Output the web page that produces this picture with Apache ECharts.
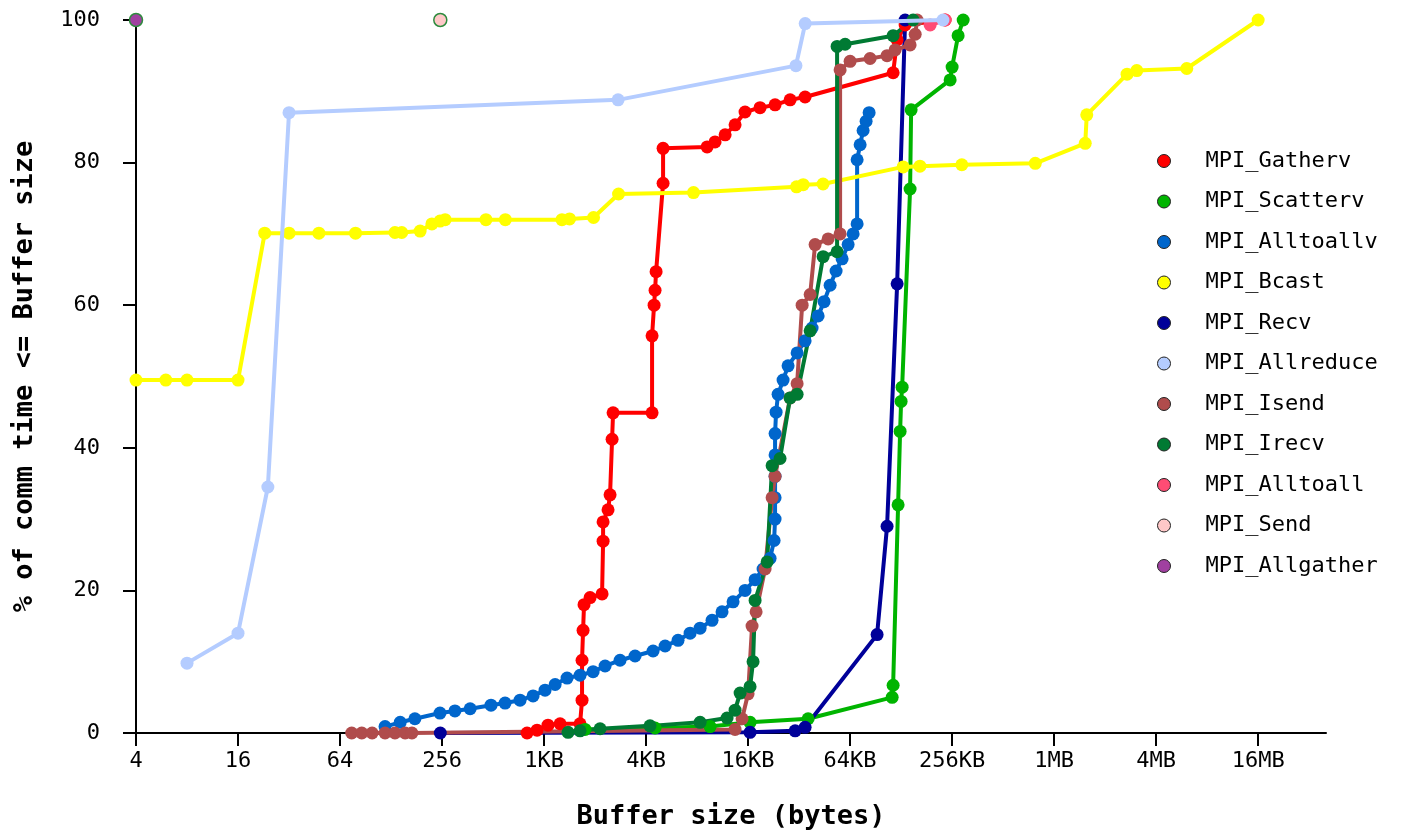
<!DOCTYPE html>
<html lang="en">
    <head>
        <title>Buffer size CDF</title>
        <meta charset="utf-8">
        <script src='https://cdn.jsdelivr.net/npm/echarts@6/dist/echarts.min.js'></script>
    </head>

    <style>
        html, body, #main {
            width: 100%;
            height: 100%;
            margin: 0;
            background: #fff;
        }
    </style>

    <body>
        <div id='main'></div>

        <script>
            // buffer size in bytes vs. cumulative % of comm time
            const gathervSize = [813, 931, 1080, 1273, 1670, 1716, 1716, 1740, 1763, 1914, 2253, 2284, 2284, 2443, 2511,
                2581, 2616, 4444, 4444, 4567, 4628, 4694, 5161, 5161, 9388, 10460, 11990, 13730, 15720, 19280,
                23640, 29000, 35550, 117600, 124200, 138400, 238400];
            const gathervPct = [0.0, 0.4, 1.1, 1.3, 1.3, 4.6, 10.2, 14.4, 18.0, 19.0, 19.5, 26.9, 29.6, 31.3, 33.4,
                41.2, 44.9, 44.9, 55.7, 60.0, 62.1, 64.7, 77.1, 82.0, 82.2, 82.9, 83.9, 85.3, 87.1, 87.7,
                88.1, 88.8, 89.2, 92.6, 97.2, 99.3, 100];

            const scattervSize = [1788, 4628, 9775, 16830, 37040, 116050, 117600, 125830, 129300, 131072, 132900,
                148100, 150200, 255200, 262144, 284400, 304600];
            const scattervPct = [0.5, 0.7, 0.9, 1.5, 2.0, 5.0, 6.7, 32.0, 42.3, 46.5, 48.5,
                76.3, 87.4, 91.6, 93.4, 97.8, 100];

            const alltoallvSize = [118, 145, 177, 249, 305, 375, 498, 603, 739, 882, 1038, 1190, 1400, 1670, 1994,
                2347, 2876, 3527, 4506, 5306, 6325, 7451, 8534, 10040, 11500, 13360, 15720, 18020, 20090, 22090,
                23330, 23640, 23640, 23640, 23640, 23640, 23970, 24630, 26360, 28210, 31900, 35550, 39090, 42430,
                46010, 49940, 54170, 58790, 63800, 68290, 72090, 72090, 75100, 78190, 81460, 84870];
            const alltoallvPct = [0.9, 1.5, 2.0, 2.8, 3.1, 3.4, 3.9, 4.2, 4.6, 5.2, 6.0, 6.8, 7.7, 8.1, 8.6,
                9.4, 10.2, 10.8, 11.5, 12.2, 13.0, 14.0, 14.7, 15.8, 17.0, 18.4, 20.0, 21.5, 23.0, 24.5,
                27.0, 30.0, 33.0, 36.0, 39.0, 42.0, 45.0, 47.5, 49.5, 51.5, 53.3, 55.0, 56.8, 58.5,
                60.5, 62.8, 64.8, 66.5, 68.5, 70.0, 71.4, 80.4, 82.5, 84.5, 85.8, 87.0];

            const bcastSize = [4, 6, 8, 16, 23, 32, 48, 79, 135, 148, 190, 223, 249, 267, 465, 605, 1306, 1448,
                2006, 2818, 7803, 31650, 34640, 45380, 134700, 169300, 299100, 811600, 1600000, 1634000,
                2825000, 3223000, 6359000, 16777216];
            const bcastPct = [49.5, 49.5, 49.5, 49.5, 70.1, 70.1, 70.1, 70.1, 70.2, 70.2, 70.4, 71.4, 71.8, 72.0,
                72.0, 72.0, 72.0, 72.1, 72.3, 75.6, 75.8, 76.6, 76.9, 77.0, 79.4, 79.5, 79.7, 79.9, 82.7, 86.7,
                92.4, 92.9, 93.2, 100];

            const recvSize = [250, 16830, 31050, 35550, 94570, 108300, 124200, 138400];
            const recvPct = [0, 0.1, 0.3, 0.8, 13.8, 29.0, 63.0, 100];

            const allreduceSize = [8, 16, 24, 32, 2800, 31400, 35600, 231400];
            const allreducePct = [9.8, 14.0, 34.5, 87.0, 88.8, 93.6, 99.5, 100];

            const isendSize = [75, 86, 99, 118, 135, 155, 170, 13730, 15100, 16384, 17290, 18270, 20640, 22710,
                23640, 29000, 31900, 34150, 38080, 40730, 48620, 57210, 57210, 65536, 85990, 108300, 120800,
                148100, 158700, 162900];
            const isendPct = [0, 0, 0, 0, 0, 0, 0, 0.5, 2.0, 5.5, 15.0, 17.0, 23.0, 33.0,
                36.0, 47.0, 49.0, 60.0, 61.5, 68.5, 69.3, 70.0, 93.0, 94.2, 94.6, 95.0, 95.8,
                96.5, 98.0, 100];

            const irecvSize = [1419, 1670, 2192, 4321, 8534, 12310, 13730, 14700, 16830, 17530, 18020, 21220,
                22710, 25300, 29000, 31900, 38080, 45420, 54920, 54920, 61240, 117600, 154300];
            const irecvPct = [0.1, 0.3, 0.6, 1.0, 1.5, 2.1, 3.2, 5.6, 6.5, 10.0, 18.6, 24.0,
                37.5, 38.5, 47.0, 47.5, 56.4, 66.8, 67.5, 96.3, 96.6, 97.8, 100];

            const alltoallSize = [194500, 238400];
            const alltoallPct = [99.3, 100];

            const sendSize = [250];
            const sendPct = [100];

            const allgatherSize = [4];
            const allgatherPct = [100];

            const names = ['MPI_Gatherv', 'MPI_Scatterv', 'MPI_Alltoallv', 'MPI_Bcast', 'MPI_Recv', 'MPI_Allreduce',
                'MPI_Isend', 'MPI_Irecv', 'MPI_Alltoall', 'MPI_Send', 'MPI_Allgather'];
            const colors = ['#ff0000', '#00b400', '#0066cc', '#ffff00', '#000099', '#b4ccff',
                '#b04c4c', '#007a33', '#ff4c74', '#ffc8c8', '#a040a0'];
            const sizes = [gathervSize, scattervSize, alltoallvSize, bcastSize, recvSize, allreduceSize,
                isendSize, irecvSize, alltoallSize, sendSize, allgatherSize];
            const pcts = [gathervPct, scattervPct, alltoallvPct, bcastPct, recvPct, allreducePct,
                isendPct, irecvPct, alltoallPct, sendPct, allgatherPct];

            // x axis runs in log2(bytes)
            const xTickExp = [2, 4, 6, 8, 10, 12, 14, 16, 18, 20, 22, 24];
            const xTickLabels = ['4', '16', '64', '256', '1KB', '4KB', '16KB', '64KB', '256KB', '1MB', '4MB', '16MB'];

            const mono = '"DejaVu Sans Mono", monospace';

            const chart = echarts.init(document.getElementById('main'));

            const series = names.map(function (name, i) {
                const single = sizes[i].length === 1;
                return {
                    name: name,
                    type: 'line',
                    color: colors[i],
                    symbol: 'circle',
                    symbolSize: 13,
                    showAllSymbol: true,
                    z: name === 'MPI_Allreduce' ? 4 : 2,
                    lineStyle: { width: 4 },
                    itemStyle: single ? { borderColor: '#2e8b3e', borderWidth: 1.5 } : {},
                    data: sizes[i].map(function (s, j) {
                        return [Math.log2(s), pcts[i][j]];
                    })
                };
            });

            const option = {
                animation: false,
                backgroundColor: '#fff',
                grid: {
                    left: 136,
                    right: 79,
                    top: 20,
                    bottom: 97,
                    outerBoundsMode: 'none'
                },
                legend: {
                    orient: 'vertical',
                    left: 1152,
                    top: 145,
                    icon: 'circle',
                    itemWidth: 13,
                    itemHeight: 13,
                    itemGap: 18.5,
                    itemStyle: { borderColor: '#222', borderWidth: 1 },
                    textStyle: {
                        fontFamily: mono,
                        fontSize: 22,
                        color: '#000',
                        padding: [0, 0, 0, 30]
                    },
                    data: names
                },
                xAxis: {
                    type: 'value',
                    min: 2,
                    max: 25.33,
                    interval: 2,
                    name: 'Buffer size (bytes)',
                    nameLocation: 'middle',
                    nameGap: 70,
                    nameTextStyle: { fontFamily: mono, fontSize: 27, fontWeight: 'bold', color: '#000' },
                    axisLine: { lineStyle: { color: '#000', width: 2 } },
                    axisTick: { length: 13, lineStyle: { color: '#000', width: 2 }, customValues: xTickExp },
                    axisLabel: {
                        customValues: xTickExp,
                        margin: 17,
                        fontFamily: mono,
                        fontSize: 22,
                        color: '#000',
                        formatter: function (v) {
                            const k = xTickExp.indexOf(v);
                            return k >= 0 ? xTickLabels[k] : '';
                        }
                    },
                    splitLine: { show: false }
                },
                yAxis: {
                    type: 'value',
                    min: 0,
                    max: 100,
                    interval: 20,
                    name: '% of comm time <= Buffer size',
                    nameLocation: 'middle',
                    nameRotate: 90,
                    nameGap: 98,
                    nameTextStyle: { fontFamily: mono, fontSize: 27, fontWeight: 'bold', color: '#000' },
                    axisLine: { show: true, lineStyle: { color: '#000', width: 2 } },
                    axisTick: { show: true, length: 13, lineStyle: { color: '#000', width: 2 } },
                    axisLabel: { margin: 36, fontFamily: mono, fontSize: 22, color: '#000' },
                    splitLine: { show: false }
                },
                series: series
            };

            chart.setOption(option);

            window.onresize = function () {
                chart.resize();
            }
        </script>
    </body>
</html>
